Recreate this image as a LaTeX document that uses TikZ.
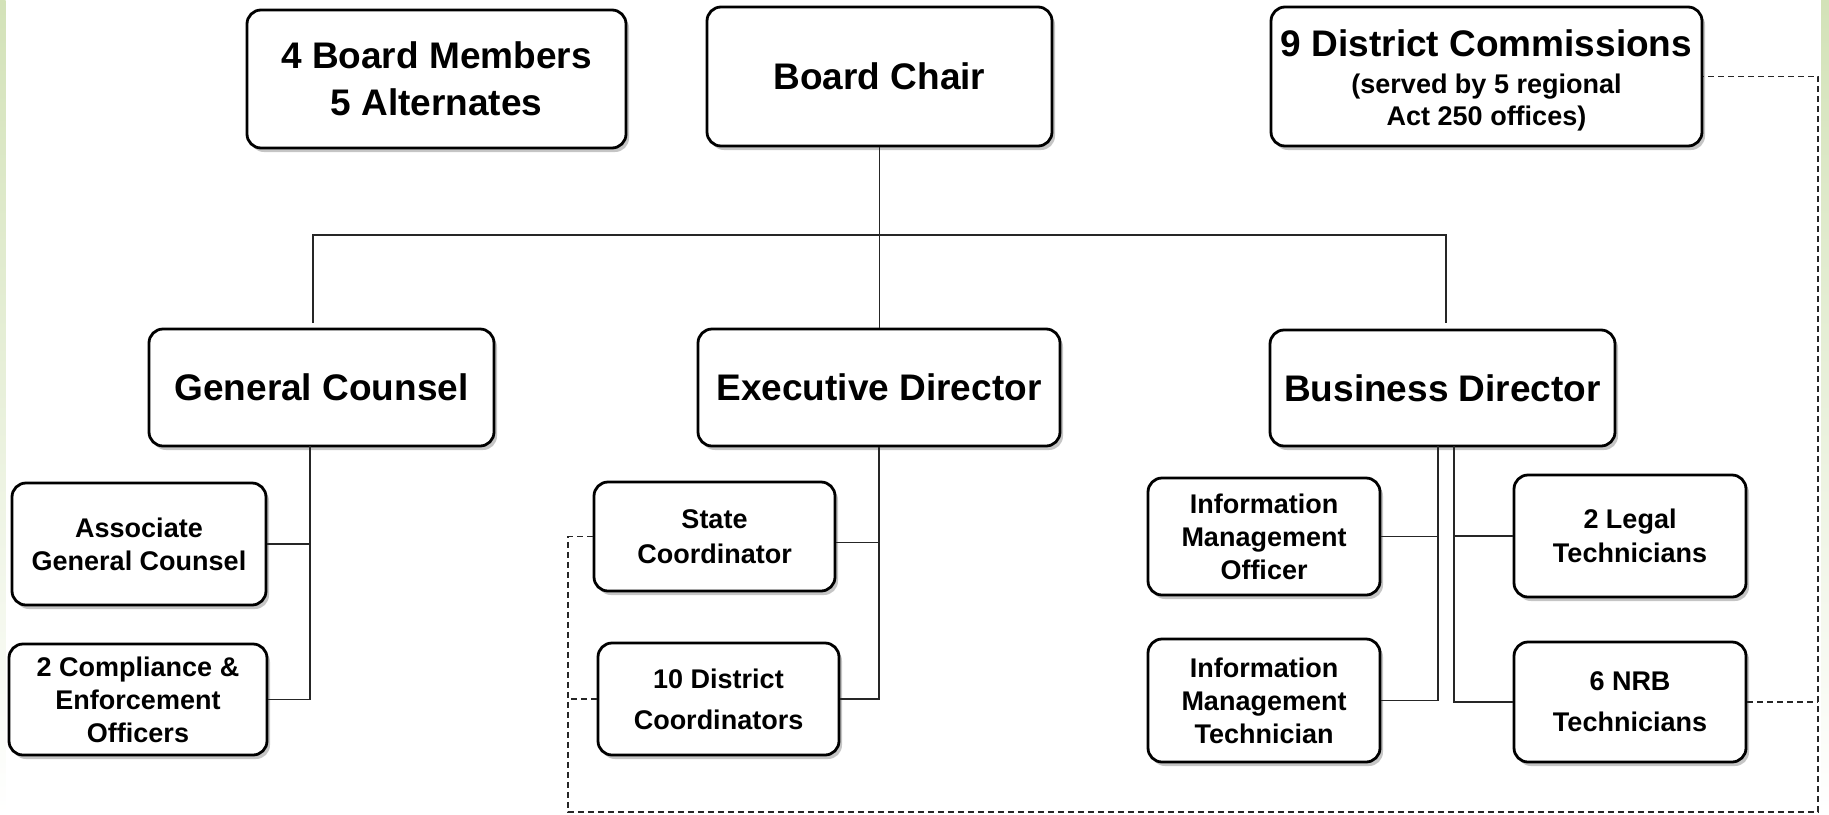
\documentclass[tikz,border=0pt]{standalone}
\usepackage{fontspec}
\setmainfont{Liberation Sans}
\usetikzlibrary{shadows}
\definecolor{stripgreen}{HTML}{D3E2B8}
\begin{document}
\begin{tikzpicture}[x=0.5pt,y=-0.5pt,
		box/.style={draw=black,line width=1.4pt,rounded corners=7pt,fill=white,align=center,inner sep=0pt,font=\bfseries,
			drop shadow={shadow xshift=1.5pt,shadow yshift=-2pt,fill=black!45,opacity=0.5}},
		big/.style={box,font=\fontsize{18.5}{23.3}\selectfont\bfseries},
		small/.style={box,font=\fontsize{13.5}{16.5}\selectfont\bfseries},
		loose/.style={box,font=\fontsize{13.5}{20.5}\selectfont\bfseries},
		link/.style={line width=0.8pt,black!85},
		dashlink/.style={line width=0.6pt,black!85,dash pattern=on 3pt off 2pt}]
	\useasboundingbox (0,0) rectangle (1829,814);
	\shade[top color=stripgreen,bottom color=white] (0,0) rectangle (5.5,814);
	\shade[top color=stripgreen,bottom color=white] (1821,0) rectangle (1829,814);
	\node[big,minimum width=189.5pt,minimum height=69pt] (members) at (436.5,79) {4 Board Members\\5 Alternates};
	\node[big,minimum width=172.5pt,minimum height=69.5pt] (chair) at (879.5,76.5) {Board Chair};
	\node[box,font=\fontsize{13.5}{16}\selectfont\bfseries,minimum width=215.5pt,minimum height=69.5pt] (commissions) at (1486.5,76.5) {{\fontsize{18.5}{18.5}\selectfont\rule{0pt}{17.6pt}9 District Commissions}\\[2.5pt](served by 5 regional\\Act 250 offices)};
	\node[big,minimum width=172.5pt,minimum height=58.5pt] (counsel) at (321.5,387.5) {General Counsel};
	\node[big,minimum width=181pt,minimum height=58.5pt] (execdir) at (879,387.5) {Executive Director};
	\node[big,minimum width=172.5pt,minimum height=58pt] (busdir) at (1442.5,388) {Business Director};
	\node[small,minimum width=127pt,minimum height=61pt] (assoc) at (139,544) {Associate\\General Counsel};
	\node[small,minimum width=129pt,minimum height=55.5pt] (compliance) at (138,699.5) {2 Compliance \&\\Enforcement\\Officers};
	\node[small,font=\fontsize{13.5}{17.5}\selectfont\bfseries,minimum width=120.5pt,minimum height=54.5pt] (statecoord) at (714.5,536.5) {State\\Coordinator};
	\node[loose,minimum width=120.5pt,minimum height=56pt] (distcoord) at (718.5,699) {10 District\\Coordinators};
	\node[small,minimum width=116pt,minimum height=58.5pt] (imofficer) at (1264,536.5) {Information\\Management\\Officer};
	\node[small,minimum width=116pt,minimum height=61.5pt] (imtech) at (1264,700.5) {Information\\Management\\Technician};
	\node[small,font=\fontsize{13.5}{17}\selectfont\bfseries,minimum width=116pt,minimum height=61pt] (legal) at (1630,536) {2 Legal\\Technicians};
	\node[loose,minimum width=116pt,minimum height=60pt] (nrb) at (1630,702) {6 NRB\\Technicians};
	\coordinate (bus) at (879,235);
	\coordinate (gcdrop) at (313,323);
	\coordinate (bddrop) at (1446,323);
	\coordinate (gcspine) at (310,446);
	\coordinate (bdleft) at (1438,446);
	\coordinate (bdright) at (1454,446);
	\coordinate (sclink) at ([yshift=-3pt]statecoord.east);
	\coordinate (loopl) at (568,812);
	\coordinate (loopr) at (1818,812);
	\draw[link] (chair.south) -- (chair.south |- execdir.north);
	\draw[link] (gcdrop) |- (bus) -| (bddrop);
	\draw[link] (gcspine) |- (compliance.east);
	\draw[link] (assoc.east) -- (assoc.east -| gcspine);
	\draw[link] (execdir.south) |- (distcoord.east);
	\draw[link] (sclink) -- (sclink -| execdir.south);
	\draw[link] (bdleft) |- (imtech.east);
	\draw[link] (imofficer.east) -- (imofficer.east -| bdleft);
	\draw[link] (bdright) |- (nrb.west);
	\draw[link] (legal.west) -- (legal.west -| bdright);
	\draw[dashlink] (statecoord.west) -| (loopl) -- (loopr) |- (commissions.east);
	\draw[dashlink] (distcoord.west) -- (distcoord.west -| loopl);
	\draw[dashlink] (nrb.east) -- (nrb.east -| loopr);
\end{tikzpicture}
\end{document}
